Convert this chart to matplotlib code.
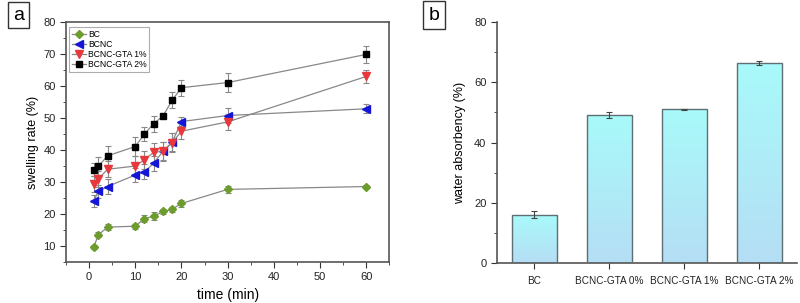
import matplotlib
matplotlib.use("Agg")
import matplotlib.pyplot as plt
import numpy as np
from matplotlib.ticker import MultipleLocator
from matplotlib.patches import Rectangle

plt.rcParams['font.family'] = ['Liberation Sans', 'DejaVu Sans']

# ---- panel a data ----
time_min = [1, 2, 4, 10, 12, 14, 16, 18, 20, 30, 60]
bc = [9.6, 13.5, 15.9, 16.2, 18.6, 19.3, 20.8, 21.5, 23.3, 27.7, 28.6]
bc_err = [0.6, 0.8, 1.0, 0.8, 1.0, 1.2, 0.8, 0.8, 1.2, 1.0, 0.6]
bcnc = [24.1, 27.1, 28.6, 32.2, 33.2, 35.9, 39.6, 42.5, 48.9, 50.8, 52.9]
bcnc_err = [1.8, 2.0, 2.2, 2.3, 2.3, 2.3, 2.8, 2.8, 1.5, 2.3, 1.4]
gta1 = [29.5, 31.0, 34.0, 35.0, 37.0, 39.3, 39.6, 42.3, 45.9, 48.8, 63.0]
gta1_err = [2.5, 2.5, 2.5, 3.0, 2.8, 3.0, 3.0, 3.0, 2.5, 2.5, 2.0]
gta2 = [33.9, 34.9, 38.2, 41.1, 45.0, 48.3, 50.6, 55.6, 59.5, 61.1, 69.9]
gta2_err = [2.0, 3.0, 3.0, 3.0, 2.3, 2.5, 0.5, 2.5, 2.5, 3.0, 2.6]

# ---- panel b data ----
samples = ['BC', 'BCNC-GTA 0%', 'BCNC-GTA 1%', 'BCNC-GTA 2%']
absorb = [16.0, 49.2, 51.0, 66.4]
absorb_err = [1.2, 1.0, 0.3, 0.7]

fig = plt.figure(figsize=(8.0, 3.03), dpi=100)

spine_c = '#555555'
tick_label_c = '#222222'
# ---------------- panel a ----------------
ax1 = fig.add_axes([0.0825, 0.1353, 0.404, 0.7917])
series = [
    ('BC', bc, bc_err, 'D', '#6c9c2c', 4.5),
    ('BCNC', bcnc, bcnc_err, '<', '#1515d8', 6),
    ('BCNC-GTA 1%', gta1, gta1_err, 'v', '#e8383c', 6),
    ('BCNC-GTA 2%', gta2, gta2_err, 's', '#000000', 5),
]
for name, y, e, m, c, ms in series:
    ax1.errorbar(time_min, y, yerr=e, fmt='none', ecolor='#888888',
                 elinewidth=0.8, capsize=2.5, capthick=0.8, zorder=2)
    ax1.plot(time_min, y, '-', color='#888888', lw=0.9, marker=m,
             markersize=ms, markerfacecolor=c, markeredgecolor=c,
             label=name, zorder=3)
ax1.set_xlim(-5, 65)
ax1.set_ylim(5, 80)
ax1.xaxis.set_major_locator(MultipleLocator(10))
ax1.xaxis.set_minor_locator(MultipleLocator(5))
ax1.yaxis.set_major_locator(MultipleLocator(10))
ax1.yaxis.set_minor_locator(MultipleLocator(5))
ax1.set_yticks([10, 20, 30, 40, 50, 60, 70, 80])
ax1.tick_params(which='both', direction='out', labelsize=8, color='#333333',
                labelcolor=tick_label_c)
ax1.tick_params(which='major', length=4)
ax1.tick_params(which='minor', length=2.5)
for s in ax1.spines.values():
    s.set_color(spine_c)
    s.set_linewidth(1.2)
ax1.set_xlabel('time (min)', fontsize=10, labelpad=4)
ax1.set_ylabel('swelling rate (%)', fontsize=9, labelpad=3)
leg = ax1.legend(loc='upper left', bbox_to_anchor=(0.005, 0.985), fontsize=6.2,
                 frameon=True, fancybox=False, edgecolor='#999999',
                 handlelength=1.6, handletextpad=0.3, borderpad=0.3,
                 labelspacing=0.12, borderaxespad=0.2)
leg.get_frame().set_linewidth(0.8)

# ---------------- panel b ----------------
ax2 = fig.add_axes([0.621, 0.132, 0.375, 0.795])
xpos = np.arange(len(samples))
bars = ax2.bar(xpos, absorb, width=0.6, color='none', edgecolor='#5d6f72',
               linewidth=1.0, zorder=3)
grad = np.linspace(0, 1, 256).reshape(-1, 1)
top_c = np.array([0.66, 0.98, 0.98])
bot_c = np.array([0.71, 0.87, 0.96])
img = (bot_c[None, None, :] * (1 - grad[:, :, None]) + top_c[None, None, :] * grad[:, :, None])
for b in bars:
    x0, y0, w, h = b.get_x(), b.get_y(), b.get_width(), b.get_height()
    im = ax2.imshow(img, extent=[x0, x0 + w, y0, y0 + h], origin='lower',
                    aspect='auto', zorder=2)
    clip = Rectangle((x0, y0), w, h, transform=ax2.transData)
    im.set_clip_path(clip)
ax2.errorbar(xpos, absorb, yerr=absorb_err, fmt='none', ecolor='#444444',
             elinewidth=0.8, capsize=2.5, capthick=0.8, zorder=4)
ax2.set_xlim(-0.5, 3.5)
ax2.set_ylim(0, 80)
ax2.set_xticks(xpos)
ax2.set_xticklabels(samples)
ax2.yaxis.set_major_locator(MultipleLocator(20))
ax2.yaxis.set_minor_locator(MultipleLocator(10))
ax2.tick_params(which='both', direction='out', labelsize=8, color='#333333',
                labelcolor=tick_label_c)
ax2.tick_params(axis='x', labelsize=7.2, pad=5)
ax2.tick_params(which='major', length=4)
ax2.tick_params(which='minor', length=2.5)
ax2.spines['top'].set_visible(False)
ax2.spines['right'].set_visible(False)
for s in ['left', 'bottom']:
    ax2.spines[s].set_color(spine_c)
    ax2.spines[s].set_linewidth(1.2)
ax2.set_ylabel('water absorbency (%)', fontsize=9, labelpad=6)

# panel letters
fig.text(18.5 / 800, 1 - 15 / 303, 'a', fontsize=14, ha='center', va='center',
         bbox=dict(boxstyle='square,pad=0.25', fc='white', ec='#333333', lw=1.0))
fig.text(434 / 800, 1 - 15 / 303, 'b', fontsize=14, ha='center', va='center',
         bbox=dict(boxstyle='square,pad=0.3', fc='white', ec='#333333', lw=1.0))

fig.savefig('out.png', dpi=100)
